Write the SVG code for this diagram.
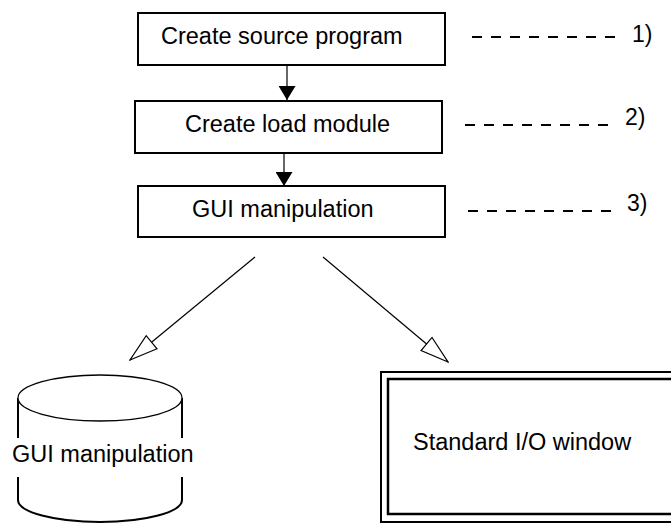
<svg xmlns="http://www.w3.org/2000/svg" width="671" height="523" viewBox="0 0 671 523">
<defs>
<style>
text{font-family:"Liberation Sans",Arial,sans-serif;fill:#000}
.t{font-size:23.5px}
.l{font-size:23px}
.box{fill:#fff;stroke:#000;stroke-width:2}
.dash{stroke:#000;stroke-width:2;stroke-dasharray:10 9;fill:none}
.conn{stroke:#000;stroke-width:1.2;fill:none}
</style>
<marker id="solid" viewBox="0 0 14 17" refX="14" refY="8.5" markerWidth="14" markerHeight="17" markerUnits="userSpaceOnUse" orient="auto">
<path d="M0,0 L14,8.5 L0,17 Z" fill="#000"/>
</marker>
<marker id="open" viewBox="0 0 30 20" refX="29" refY="10" markerWidth="30" markerHeight="20" markerUnits="userSpaceOnUse" orient="auto">
<path d="M1,1.5 L29,10 L1,18.5 Z" fill="#fff" stroke="#000" stroke-width="1.2"/>
</marker>
</defs>
<rect width="671" height="523" fill="#fff"/>
<g id="connectors">
<line class="conn" x1="287" y1="65" x2="287" y2="100" stroke-width="2" marker-end="url(#solid)"/>
<line class="conn" x1="284" y1="153" x2="284" y2="186" stroke-width="2" marker-end="url(#solid)"/>
<line class="conn" x1="255" y1="257" x2="130" y2="360" marker-end="url(#open)"/>
<line class="conn" x1="323" y1="257" x2="448" y2="362" marker-end="url(#open)"/>
</g>
<g id="step1">
<rect class="box" x="138" y="13" width="307" height="52"/>
<text class="t" x="161" y="44">Create source program</text>
</g>
<g id="step2">
<rect class="box" x="135" y="101" width="307" height="52"/>
<text class="t" x="185" y="132">Create load module</text>
</g>
<g id="step3">
<rect class="box" x="138" y="186" width="307" height="51"/>
<text class="t" x="192" y="217">GUI manipulation</text>
</g>
<g id="label1">
<line class="dash" x1="472" y1="37" x2="615" y2="37"/>
<text class="l" x="632" y="42">1)</text>
</g>
<g id="label2">
<line class="dash" x1="465" y1="125" x2="613" y2="125"/>
<text class="l" x="625" y="125">2)</text>
</g>
<g id="label3">
<line class="dash" x1="468" y1="211" x2="615" y2="211"/>
<text class="l" x="627" y="211">3)</text>
</g>
<g id="database">
<path d="M18,398 L18,500 A82,22 0 0 0 182,500 L182,398" fill="#fff" stroke="#000" stroke-width="2"/>
<ellipse cx="100" cy="398" rx="82" ry="23" fill="#fff" stroke="#000" stroke-width="1.3"/>
<rect x="12" y="438" width="180" height="39" fill="#fff"/>
<text class="t" x="12" y="462">GUI manipulation</text>
</g>
<g id="window">
<rect x="381" y="372" width="300" height="150" fill="#fff" stroke="#000" stroke-width="2"/>
<rect x="388" y="379" width="290" height="135" fill="none" stroke="#000" stroke-width="2.5"/>
<text class="t" x="413" y="450">Standard I/O window</text>
</g>
</svg>
